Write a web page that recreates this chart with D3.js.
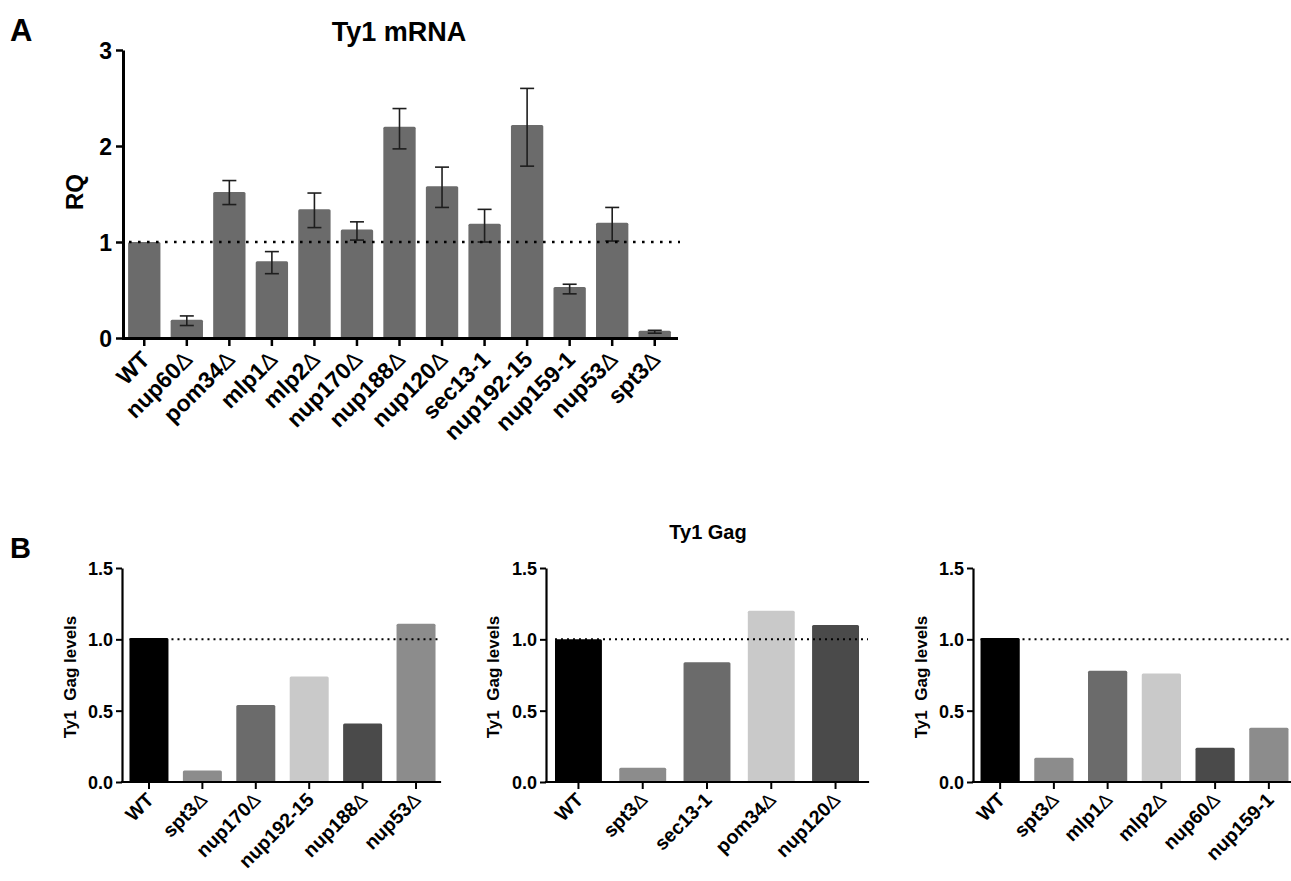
<!DOCTYPE html>
<html>
<head>
<meta charset="utf-8">
<script src="https://cdn.jsdelivr.net/npm/d3@7"></script>
<style>
body { margin: 0; background: #fff; }
svg { display: block; font-family: "Liberation Sans", Arial, sans-serif; font-weight: bold; }
</style>
</head>
<body>
<svg id="fig" width="1291" height="881"></svg>
<script>
// Panel A: Ty1 mRNA (RQ, mean with error bar ends)
const mrnaStrains = ["WT", "nup60Δ", "pom34Δ", "mlp1Δ", "mlp2Δ", "nup170Δ", "nup188Δ",
	"nup120Δ", "sec13-1", "nup192-15", "nup159-1", "nup53Δ", "spt3Δ"];
const mrnaRQ   = [1.00, 0.19, 1.52, 0.80, 1.34, 1.13, 2.20, 1.58, 1.19, 2.22, 0.53, 1.20, 0.075];
const mrnaLow  = [null, 0.13, 1.39, 0.67, 1.15, 1.02, 1.97, 1.36, 1.00, 1.79, 0.46, 1.01, 0.05];
const mrnaHigh = [null, 0.23, 1.64, 0.90, 1.51, 1.21, 2.39, 1.78, 1.34, 2.60, 0.56, 1.36, 0.08];
const rqTicks = [0, 1, 2, 3];

// Panel B: Ty1 Gag levels, three blots
const gag1Strains = ["WT", "spt3Δ", "nup170Δ", "nup192-15", "nup188Δ", "nup53Δ"];
const gag1Levels  = [1.01, 0.08, 0.54, 0.74, 0.41, 1.11];
const gag2Strains = ["WT", "spt3Δ", "sec13-1", "pom34Δ", "nup120Δ"];
const gag2Levels  = [1.00, 0.10, 0.84, 1.20, 1.10];
const gag3Strains = ["WT", "spt3Δ", "mlp1Δ", "mlp2Δ", "nup60Δ", "nup159-1"];
const gag3Levels  = [1.01, 0.17, 0.78, 0.76, 0.24, 0.38];
const gagTicks = [0, 0.5, 1, 1.5];

const shades = ["#000000", "#8c8c8c", "#6b6b6b", "#c9c9c9", "#4a4a4a", "#8c8c8c"];

const svg = d3.select("#fig");

// strain names: delta drawn in a thin face
function strainLabel(text, name) {
	const parts = name.split("Δ");
	text.append("tspan").text(parts[0]);
	if (parts.length > 1) text.append("tspan").attr("font-weight", "normal").text("Δ");
}

// panel letters
svg.append("text").attr("x", 10).attr("y", 41).attr("font-size", 31).text("A");
svg.append("text").attr("x", 10).attr("y", 558).attr("font-size", 29).text("B");

// ---------- Panel A ----------
const mrna = mrnaStrains.map((s, i) => ({strain: s, rq: mrnaRQ[i], lo: mrnaLow[i], hi: mrnaHigh[i]}));

const xA = d3.scaleBand()
	.domain(mrnaStrains)
	.range([123, 676])
	.paddingInner(0.24)
	.paddingOuter(0.12);

const yA = d3.scaleLinear()
	.domain([0, 3])
	.range([338, 50]);

const gA = svg.append("g");

gA.selectAll("rect.bar")
	.data(mrna)
	.join("rect")
	.attr("class", "bar")
	.attr("x", d => xA(d.strain))
	.attr("y", d => yA(d.rq))
	.attr("width", xA.bandwidth())
	.attr("height", d => yA(0) - yA(d.rq))
	.attr("rx", 1.5)
	.attr("fill", "#6b6b6b");

const errs = mrna.filter(d => d.lo !== null);
const cx = d => xA(d.strain) + xA.bandwidth() / 2;

gA.selectAll("line.err")
	.data(errs)
	.join("line")
	.attr("class", "err")
	.attr("x1", cx).attr("x2", cx)
	.attr("y1", d => yA(d.lo)).attr("y2", d => yA(d.hi))
	.attr("stroke", "#1e1e1e")
	.attr("stroke-width", 1.6);

gA.selectAll("line.cap")
	.data(errs.flatMap(d => [{d, v: d.lo}, {d, v: d.hi}]))
	.join("line")
	.attr("class", "cap")
	.attr("x1", e => cx(e.d) - 7).attr("x2", e => cx(e.d) + 7)
	.attr("y1", e => yA(e.v)).attr("y2", e => yA(e.v))
	.attr("stroke", "#1e1e1e")
	.attr("stroke-width", 1.6);

// reference line at RQ = 1
gA.append("line")
	.attr("x1", xA.range()[0] + 6).attr("x2", xA.range()[1] + 4)
	.attr("y1", yA(1)).attr("y2", yA(1))
	.attr("stroke", "#000")
	.attr("stroke-width", 2.6)
	.attr("stroke-dasharray", "2.6,6.4");

const axA = gA.append("g")
	.attr("transform", `translate(123,0)`)
	.call(d3.axisLeft(yA).tickValues(rqTicks).tickFormat(d3.format("d")).tickSize(7).tickSizeOuter(0).tickPadding(4));
axA.select(".domain").attr("stroke-width", 3);
axA.selectAll(".tick line").attr("stroke-width", 2.5);
axA.selectAll(".tick text").attr("font-size", 23).attr("font-family", null).attr("dy", "0.36em");

const axAx = gA.append("g")
	.attr("transform", `translate(0,${yA(0)})`)
	.call(d3.axisBottom(xA).tickSize(8).tickSizeOuter(0).tickFormat(""));
axAx.select(".domain").attr("stroke-width", 3).attr("stroke-linecap", "square");
axAx.selectAll(".tick line").attr("stroke-width", 2.5);

gA.selectAll("text.xlab")
	.data(mrna)
	.join("text")
	.attr("class", "xlab")
	.attr("font-size", 23)
	.attr("text-anchor", "end")
	.attr("transform", d => `translate(${cx(d) + 7},${yA(0) + 23}) rotate(-45)`)
	.each(function(d) { strainLabel(d3.select(this), d.strain); });

gA.append("text")
	.attr("transform", `translate(83,192) rotate(-90)`)
	.attr("text-anchor", "middle")
	.attr("font-size", 24)
	.text("RQ");

gA.append("text")
	.attr("x", 399).attr("y", 41)
	.attr("text-anchor", "middle")
	.attr("font-size", 27)
	.text("Ty1 mRNA");

// ---------- Panel B ----------
function drawGag(strains, levels, axisX, rangeEnd, lineEnd, labelX) {
	const data = strains.map((s, i) => ({strain: s, v: levels[i], fill: shades[i]}));

	const x = d3.scaleBand()
		.domain(strains)
		.range([axisX, rangeEnd])
		.paddingInner(0.27)
		.paddingOuter(0.14);

	const y = d3.scaleLinear()
		.domain([0, 1.5])
		.range([782, 568]);

	const g = svg.append("g");

	g.selectAll("rect.bar")
		.data(data)
		.join("rect")
		.attr("class", "bar")
		.attr("x", d => x(d.strain))
		.attr("y", d => y(d.v))
		.attr("width", x.bandwidth())
		.attr("height", d => y(0) - y(d.v))
		.attr("rx", 1.5)
		.attr("fill", d => d.fill);

	g.append("line")
		.attr("x1", x(strains[0])).attr("x2", lineEnd)
		.attr("y1", y(1)).attr("y2", y(1))
		.attr("stroke", "#000")
		.attr("stroke-width", 2)
		.attr("stroke-dasharray", "2,4");

	const ay = g.append("g")
		.attr("transform", `translate(${axisX},0)`)
		.call(d3.axisLeft(y).tickValues(gagTicks).tickFormat(d3.format(".1f")).tickSize(6).tickSizeOuter(0).tickPadding(3));
	ay.select(".domain").attr("stroke-width", 2.2);
	ay.selectAll(".tick line").attr("stroke-width", 2);
	ay.selectAll(".tick text").attr("font-size", 18).attr("font-family", null).attr("dy", "0.36em");

	const ax = g.append("g")
		.attr("transform", `translate(0,${y(0)})`)
		.call(d3.axisBottom(x).tickSize(7).tickSizeOuter(0).tickFormat(""));
	ax.select(".domain").attr("d", `M${axisX},0H${lineEnd}`).attr("stroke-width", 2.2).attr("stroke-linecap", "square");
	ax.selectAll(".tick line").attr("stroke-width", 2);

	g.selectAll("text.xlab")
		.data(data)
		.join("text")
		.attr("class", "xlab")
		.attr("font-size", 19.5)
		.attr("text-anchor", "end")
		.attr("transform", d => `translate(${x(d.strain) + x.bandwidth() / 2 + 6},${y(0) + 19}) rotate(-45)`)
		.each(function(d) { strainLabel(d3.select(this), d.strain); });

	g.append("text")
		.attr("transform", `translate(${labelX},677) rotate(-90)`)
		.attr("text-anchor", "middle")
		.attr("font-size", 17)
		.style("white-space", "pre")
		.text("Ty1  Gag levels");
}

drawGag(gag1Strains, gag1Levels, 122, 443, 440, 76);
drawGag(gag2Strains, gag2Levels, 546, 868, 868, 499);
drawGag(gag3Strains, gag3Levels, 973, 1296, 1291, 927);

svg.append("text")
	.attr("x", 708).attr("y", 539)
	.attr("text-anchor", "middle")
	.attr("font-size", 20)
	.text("Ty1 Gag");
</script>
</body>
</html>
